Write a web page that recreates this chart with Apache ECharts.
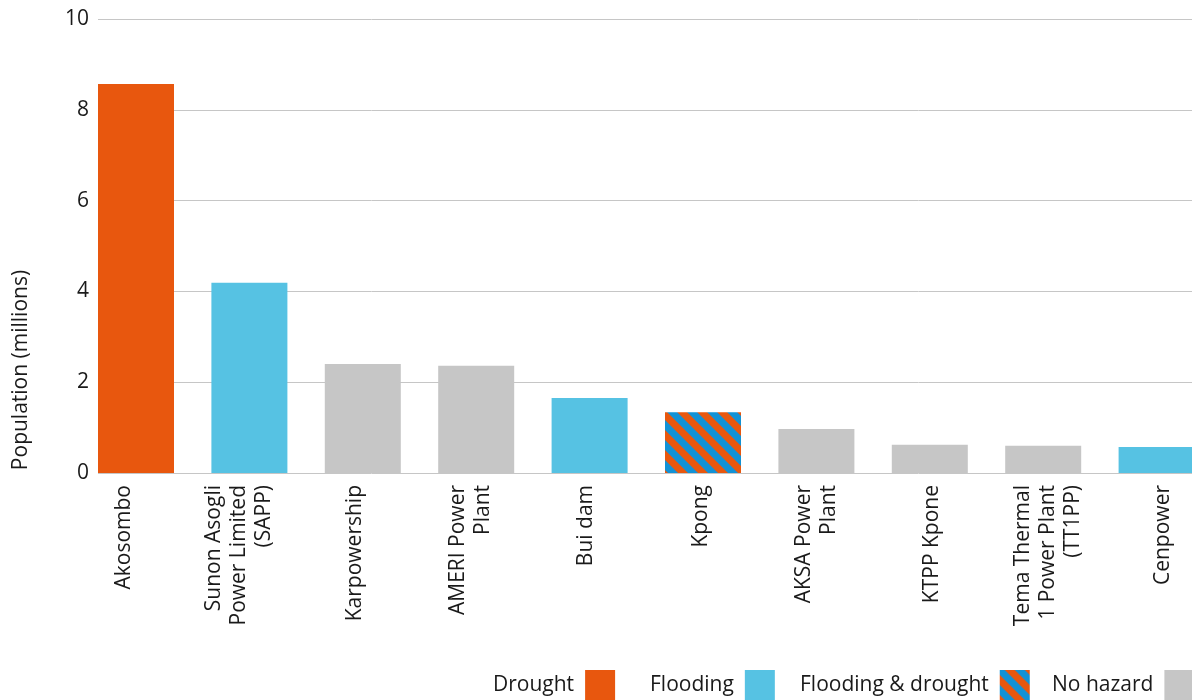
<!DOCTYPE html>
<html>
<head>
<meta charset="utf-8">
<title>Population by power plant</title>
<script src="https://cdn.jsdelivr.net/npm/echarts@6/dist/echarts.min.js"></script>
<style>
	html, body { margin: 0; padding: 0; background: #fff; }
	#main { width: 1192px; height: 700px; }
</style>
</head>
<body>
<div id="main"></div>
<script>
// plants, population in millions, and which hazard each one has
var plants = ['Akosombo', 'Sunon Asogli\nPower Limited\n(SAPP)', 'Karpowership', 'AMERI Power\nPlant', 'Bui dam',
	'Kpong', 'AKSA Power\nPlant', 'KTPP Kpone', 'Tema Thermal\n1 Power Plant\n(TT1PP)', 'Cenpower'];
var population = [8.57, 4.19, 2.40, 2.36, 1.65, 1.34, 0.97, 0.62, 0.60, 0.57];
var hazard = ['Drought', 'Flooding', 'No hazard', 'No hazard', 'Flooding',
	'Flooding & drought', 'No hazard', 'No hazard', 'No hazard', 'Flooding'];
var hazardTypes = ['Drought', 'Flooding', 'Flooding & drought', 'No hazard'];
var yTicks = [0, 2, 4, 6, 8, 10];

var FONT = '"Open Sans", "Noto Sans", sans-serif';
var TXT = '#1a1a1a';

/* 斜条纹 pattern for flooding & drought */
function stripePattern() {
	var c = document.createElement('canvas');
	c.width = 20;
	c.height = 20;
	var ctx = c.getContext('2d');
	ctx.fillStyle = '#e8570e';
	ctx.fillRect(0, 0, 20, 20);
	ctx.strokeStyle = '#1192d6';
	ctx.lineWidth = 7.07;
	[-20, 0, 20].forEach(function (k) {
		ctx.beginPath();
		ctx.moveTo(-5, -5 + k);
		ctx.lineTo(25, 25 + k);
		ctx.stroke();
	});
	return { image: c, repeat: 'repeat' };
}

var colors = {
	'Drought': '#e8570e',
	'Flooding': '#56c2e3',
	'Flooding & drought': stripePattern(),
	'No hazard': '#c6c6c6'
};

// one series per hazard so the legend works, empty where the plant has another hazard
// barGap -100% puts them all on the same spot
var series = hazardTypes.map(function (name) {
	return {
		name: name,
		type: 'bar',
		xAxisIndex: 1,
		yAxisIndex: 1,
		barWidth: 76,
		barGap: '-100%',
		silent: true,
		itemStyle: { color: colors[name] },
		data: population.map(function (v, i) {
			return hazard[i] === name ? v : '-';
		})
	};
});

// legend items aren't evenly spaced in the original, so one legend per item
var legendLeft = [493, 650, 800, 1052];
var legends = hazardTypes.map(function (name, i) {
	return {
		data: [name],
		left: legendLeft[i],
		top: 670,
		padding: 0,
		align: 'right',
		icon: 'rect',
		itemWidth: 30,
		itemHeight: 30,
		selectedMode: false,
		textStyle: { fontSize: 21, color: TXT, fontFamily: FONT, padding: [4, 6, 0, 0] }
	};
});

var myChart = echarts.init(document.getElementById('main'));
var option = {
	animation: false,
	textStyle: { fontFamily: FONT },
	grid: [
		{ left: 98, right: 0, top: 19, bottom: 227, outerBoundsMode: 'none' },        // gridlines + y axis
		{ left: 79.3, width: 1134, top: 19, bottom: 227, outerBoundsMode: 'none' },   // bars
		{ left: 66.25, width: 1155, top: 19, bottom: 227, outerBoundsMode: 'none' }   // category labels
	],
	xAxis: [
		{ gridIndex: 0, type: 'value', min: 0, max: 1, show: false },
		{ gridIndex: 1, type: 'category', data: plants, show: false },
		{
			gridIndex: 2,
			type: 'category',
			data: plants,
			axisLine: { show: false },
			axisTick: { show: false },
			axisLabel: {
				rotate: 90,
				margin: 12,
				interval: 0,
				fontSize: 21,
				lineHeight: 25,
				color: TXT,
				fontFamily: FONT
			}
		}
	],
	yAxis: [
		{
			gridIndex: 0,
			type: 'value',
			min: yTicks[0],
			max: yTicks[yTicks.length - 1],
			interval: yTicks[1] - yTicks[0],
			name: 'Population (millions)',
			nameLocation: 'middle',
			nameRotate: 90,
			nameGap: 66,
			nameTextStyle: {
				fontSize: 21,
				color: TXT,
				fontFamily: FONT,
				padding: [0, 248, 0, 0]
			},
			axisLine: { show: false },
			axisTick: { show: false },
			axisLabel: { fontSize: 21, color: TXT, margin: 9, fontFamily: FONT },
			splitLine: { lineStyle: { color: '#c6c6c6', width: 1 } }
		},
		{ gridIndex: 1, type: 'value', min: 0, max: 10, show: false },
		{ gridIndex: 2, type: 'value', min: 0, max: 10, show: false }
	],
	legend: legends,
	series: series
};
myChart.setOption(option);

window.onresize = function () {
	myChart.resize();
};
</script>
</body>
</html>
